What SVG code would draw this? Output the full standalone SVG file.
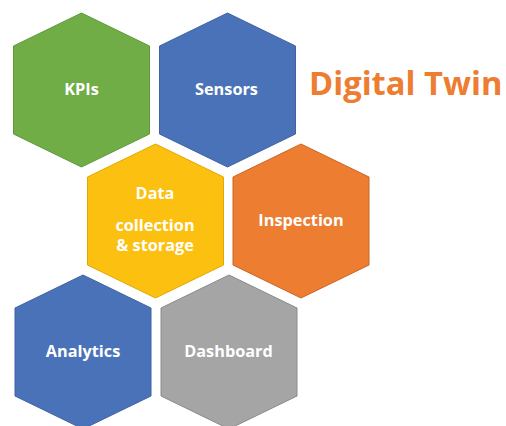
<svg xmlns="http://www.w3.org/2000/svg" width="506" height="426" viewBox="0 0 506 426">
<defs>
<polygon id="hex" points="0,-77 68,-44 68,44 0,77 -68,44 -68,-44"/>
</defs>
<style>
.lbl{font-family:"Open Sans","Liberation Sans",sans-serif;font-weight:bold;font-size:16.3px;fill:#ffffff;text-anchor:middle}
.title{font-family:"Open Sans","Liberation Sans",sans-serif;font-weight:bold;font-size:32.7px;fill:#ED7D31}
.green{fill:#70AD47;stroke:#5E9A3A;stroke-width:1}
.blue{fill:#4A72B8;stroke:#3F63A3;stroke-width:1}
.yellow{fill:#FCC010;stroke:#E0A800;stroke-width:1}
.orange{fill:#ED7D31;stroke:#C96524;stroke-width:1}
.gray{fill:#A5A5A5;stroke:#8A8A8A;stroke-width:1}
</style>
<rect width="506" height="426" fill="#ffffff"/>
<g id="connectors"></g>
<g id="kpis"><use href="#hex" x="81.5" y="90" class="green"/><text class="lbl" x="81.5" y="95">KPIs</text></g>
<g id="sensors"><use href="#hex" x="227.5" y="90" class="blue"/><text class="lbl" x="226.5" y="95">Sensors</text></g>
<g id="data"><use href="#hex" x="155.5" y="221" class="yellow"/><text class="lbl" x="155" y="199">Data</text><text class="lbl" x="155" y="231">collection</text><text class="lbl" x="155" y="251">&amp; storage</text></g>
<g id="inspection"><use href="#hex" x="301" y="221" class="orange"/><text class="lbl" x="301" y="226">Inspection</text></g>
<g id="analytics"><use href="#hex" x="83" y="352" class="blue"/><text class="lbl" x="83" y="357">Analytics</text></g>
<g id="dashboard"><use href="#hex" x="229" y="352" class="gray"/><text class="lbl" x="228.5" y="357">Dashboard</text></g>
<g id="title"><text class="title" x="309" y="95">Digital Twin</text></g>
</svg>
